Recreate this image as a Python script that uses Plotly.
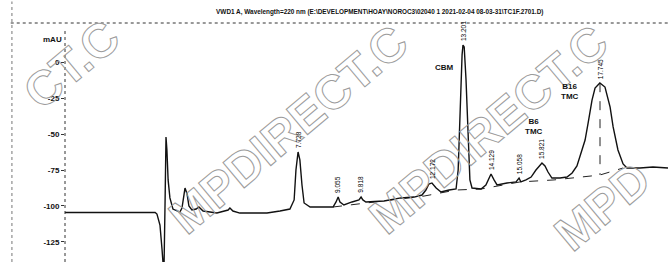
import math
import plotly.graph_objects as go
import numpy as np

# ---------------- data ----------------
time_min = [0.00, 1.82, 2.99, 3.05, 3.15, 3.22, 3.28, 3.32, 3.35, 3.38, 3.42, 3.48, 3.58, 3.81, 3.88,
            3.95, 3.98, 4.05, 4.11, 4.21, 4.35, 4.44, 4.58, 5.04, 5.41, 5.47, 5.57, 5.80, 6.70, 7.13,
            7.46, 7.60, 7.66, 7.73, 7.79, 7.86, 7.93, 8.13, 8.89, 8.99, 9.06, 9.12, 9.25, 9.52, 9.75,
            9.82, 9.88, 9.98, 10.58, 11.14, 11.58, 11.84, 11.97, 12.07, 12.17, 12.31, 12.47, 12.74, 12.97, 13.04,
            13.10, 13.17, 13.20, 13.24, 13.30, 13.37, 13.43, 13.50, 13.80, 13.96, 14.06, 14.13, 14.23, 14.33, 14.66,
            14.96, 15.06, 15.12, 15.29, 15.46, 15.62, 15.72, 15.82, 15.92, 16.02, 16.15, 16.42, 16.65, 16.82, 16.98,
            17.08, 17.25, 17.35, 17.48, 17.58, 17.74, 17.91, 18.08, 18.18, 18.34, 18.51, 18.64, 19.07, 19.50, 20.00]
signal_mau = [-104.5, -104.5, -104.5, -105.6, -113.2, -130.6, -148.0, -95.8, -52.1, -61.1, -81.9, -94.4, -102.1, -104.2, -101.4,
              -91.7, -87.5, -91.7, -100.0, -102.8, -102.1, -100.7, -103.5, -104.9, -102.8, -101.4, -103.5, -104.9, -104.9, -103.5,
              -102.1, -95.8, -75.0, -62.5, -68.0, -85.4, -97.9, -100.7, -100.7, -97.2, -93.8, -97.2, -99.3, -97.2, -95.8,
              -93.8, -95.8, -97.2, -96.5, -94.4, -93.8, -92.4, -88.9, -84.7, -84.0, -87.5, -90.3, -88.9, -88.2, -75.0,
              -35.0, 5.0, 11.8, 10.4, -12.0, -50.0, -81.9, -87.5, -88.2, -85.4, -80.6, -77.8, -81.9, -85.4, -84.0,
              -83.3, -80.6, -83.3, -81.9, -79.9, -75.0, -72.2, -70.1, -72.2, -76.4, -80.6, -80.6, -79.9, -77.1, -72.2,
              -66.0, -54.2, -42.4, -26.4, -18.1, -14.6, -17.4, -31.3, -45.1, -61.1, -70.8, -73.6, -73.6, -72.9, -73.6]

# integration baseline
base_time = [8.89, 10.58, 11.91, 12.97, 13.80, 15.09, 16.22, 17.74, 18.51]
base_mau = [-100.7, -96.5, -93.1, -88.9, -88.2, -83.3, -81.9, -78.5, -73.6]

# retention times of labelled peaks
peak_rt = [7.728, 9.055, 9.818, 12.172, 13.201, 14.129, 15.058, 15.821, 17.745]

# compound names
compound_names = ["CBM", "B6<br>TMC", "B16<br>TMC"]
compound_time = [12.60, 15.55, 16.75]
compound_mau = [-3.5, -44.5, -20.8]

y_ticks = [0, -25, -50, -75, -100, -125]
y_ticktext = ["0", "-25", "-50", "-75", "-100", "-125"]

title_text = "VWD1 A, Wavelength=220 nm (E:\\DEVELOPMENT\\HOAY\\NOROC3\\02040 1 2021-02-04 08-03-31\\TC1F.2701.D)"
watermark = "CHEMPDIRECT.COM"

# ---------------- figure ----------------
FONT = "Liberation Sans, Arial, sans-serif"
W, H, L, T = 603, 239, 65, 23   # plot box in page pixels

fig = go.Figure()
fig.add_trace(go.Scatter(x=base_time, y=base_mau, mode="lines",
                         line=dict(color="#222", width=1, dash="dash"), hoverinfo="skip"))
apex = float(np.interp(peak_rt[-1], time_min, signal_mau))
fig.add_trace(go.Scatter(x=[peak_rt[-1], peak_rt[-1]],
                         y=[apex, float(np.interp(peak_rt[-1], base_time, base_mau))],
                         mode="lines", line=dict(color="#222", width=1, dash="dash"), hoverinfo="skip"))
fig.add_trace(go.Scatter(x=time_min, y=signal_mau, mode="lines",
                         line=dict(color="#111", width=1.4)))

annotations = []
# watermark: diagonal strings, only the part that lies inside the page
wm_angle = 40
adv = 34.0
dx, dy = adv * math.cos(math.radians(wm_angle)), -adv * math.sin(math.radians(wm_angle))
wm_e_positions = [(-150, 250), (145, 250), (345, 250), (550, 250)]   # page position of the first "E"
for ex, ey in wm_e_positions:
    inside = []
    for i, ch in enumerate(watermark):
        cx, cy = ex + (i - 2) * dx, ey + (i - 2) * dy
        if 16 <= cx <= 652 and 20 <= cy <= 244:
            inside.append(i)
    if not inside:
        continue
    i0, i1 = inside[0], inside[-1]
    mid = (i0 + i1) / 2 - 2
    cx, cy = ex + mid * dx, ey + mid * dy
    annotations.append(dict(text=watermark[i0:i1 + 1], xref="paper", yref="paper",
                            x=(cx - L) / W, y=1 - (cy - T) / H, showarrow=False,
                            textangle=-wm_angle, xanchor="center", yanchor="middle",
                            font=dict(family=FONT, size=48, color="#999", weight="bold")))
n_wm = len(annotations)

for rt in peak_rt:
    yv = float(np.interp(rt, time_min, signal_mau))
    annotations.append(dict(text=f"{rt:.3f}", x=rt, y=yv, xref="x", yref="y", showarrow=False,
                            textangle=-90, xanchor="center", yanchor="bottom", yshift=2,
                            font=dict(family=FONT, size=6.5, color="#000")))

for name, tx, ty in zip(compound_names, compound_time, compound_mau):
    annotations.append(dict(text=f"<b>{name}</b>", x=tx, y=ty, xref="x", yref="y", showarrow=False,
                            font=dict(family=FONT, size=8, color="#111")))

annotations.append(dict(text="<b>mAU</b>", xref="paper", yref="paper", x=-0.04, y=0.958,
                        showarrow=False, font=dict(family=FONT, size=8, color="#111")))

shapes = [
    dict(type="line", xref="paper", yref="paper", x0=-0.09, x1=1, y0=1, y1=1,
         line=dict(color="#333", width=1, dash="dot")),
    dict(type="line", xref="paper", yref="paper", x0=0, x1=0, y0=0, y1=0.97,
         line=dict(color="#333", width=1, dash="dot")),
    dict(type="line", xref="paper", yref="paper", x0=-0.088, x1=-0.088, y0=0, y1=1.09,
         line=dict(color="#777", width=1, dash="dot")),
]

fig.update_layout(
    width=668, height=262,
    margin=dict(l=L, r=0, t=T, b=0),
    paper_bgcolor="white", plot_bgcolor="white",
    showlegend=False,
    title=dict(text=f"<b>{title_text}</b>", x=0.522, xref="paper", y=0.955, yref="container",
               xanchor="center", yanchor="middle", font=dict(family=FONT, size=6.4, color="#111")),
    xaxis=dict(range=[0, 20], visible=False),
    yaxis=dict(range=[-138.9, 27.1], tickvals=y_ticks, ticktext=y_ticktext, showgrid=False,
               zeroline=False, showline=False, ticks="outside", ticklen=3, tickcolor="#333",
               tickfont=dict(family=FONT, size=8, color="#111", weight="bold")),
    annotations=annotations, shapes=shapes,
)

sel = ", ".join(f'g.annotation[data-index="{i}"] text' for i in range(n_wm))
css = (sel + " { fill: none !important; stroke: rgb(155,155,155) !important; stroke-width: 1px !important; }"
       + " body { margin: 0 !important; }")
post = ("var s=document.createElement('style');s.textContent=" + repr(css) + ";document.head.appendChild(s);"
        "document.body.style.margin='0';")
fig.write_html("out.html", post_script=post, config={"displayModeBar": False})
